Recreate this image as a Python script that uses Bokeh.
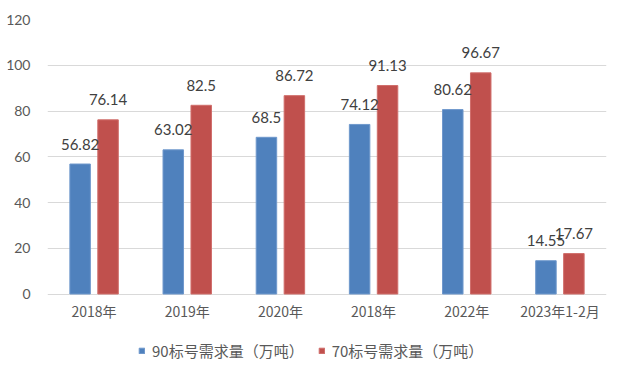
from bokeh.plotting import figure
from bokeh.models import ColumnDataSource, Range1d, FixedTicker, LabelSet, Legend, LegendItem
from bokeh.core.properties import value
from bokeh.transform import dodge
from bokeh.embed import file_html
from bokeh.resources import INLINE

categories = ["2018年", "2019年", "2020年", "2018年", "2022年", "2023年1-2月"]
series_90 = [56.82, 63.02, 68.5, 74.12, 80.62, 14.55]
series_70 = [76.14, 82.5, 86.72, 91.13, 96.67, 17.67]
name_90 = "90标号需求量（万吨）"
name_70 = "70标号需求量（万吨）"
y_ticks = [0, 20, 40, 60, 80, 100, 120]

BLUE = "#4F81BD"
RED = "#C0504D"
CJK = "Noto Sans CJK SC"
NUM = "Lato"

W, H = 613, 366
TOP, BOTTOM, LEFT, RIGHT = 19, 0, 47, 7
PX_PER_120 = 274.5  # pixel span of the 0..120 value range
frame_h = H - TOP - BOTTOM
y_min = 120 - frame_h * 120 / PX_PER_120

idx = list(range(len(categories)))
src = ColumnDataSource(dict(
    x=idx, zero=[0] * len(idx), cat=categories,
    v90=series_90, v70=series_70,
    t90=[str(v) for v in series_90], t70=[str(v) for v in series_70],
))

p = figure(width=W, height=H, output_backend="svg", toolbar_location=None,
           x_range=Range1d(-0.5, len(categories) - 0.5), y_range=Range1d(y_min, 120),
           x_axis_location=None,
           min_border_left=LEFT, min_border_right=RIGHT, min_border_top=TOP, min_border_bottom=BOTTOM)
p.outline_line_color = None
p.background_fill_color = "white"
p.border_fill_color = "white"

p.xgrid.grid_line_color = None
p.ygrid.grid_line_color = "#D9D9D9"
p.ygrid.grid_line_width = 1
p.ygrid.ticker = FixedTicker(ticks=y_ticks)

r90 = p.vbar(x=dodge("x", -0.15), top="v90", bottom=0, width=0.22, source=src,
             fill_color=BLUE, line_color="#6F98CC", line_width=1)
r70 = p.vbar(x=dodge("x", 0.15), top="v70", bottom=0, width=0.22, source=src,
             fill_color=RED, line_color="#D06E6B", line_width=1)

for col, txt, off in (("v90", "t90", -0.15), ("v70", "t70", 0.15)):
    p.add_layout(LabelSet(x=dodge("x", off), y=col, text=txt, source=src,
                          text_align="center", text_baseline="middle", y_offset=20,
                          text_font=value(NUM), text_font_size="15px", text_color="#404040"))

# category labels under the zero line
p.add_layout(LabelSet(x="x", y="zero", text="cat", source=src,
                      text_align="center", text_baseline="middle", y_offset=-17,
                      text_font=value(CJK), text_font_size="14px", text_color="#595959"))

p.yaxis.ticker = FixedTicker(ticks=y_ticks)
p.yaxis.axis_line_color = None
p.yaxis.major_tick_line_color = None
p.yaxis.minor_tick_line_color = None
p.yaxis.major_label_standoff = 11
p.yaxis.major_label_text_font = NUM
p.yaxis.major_label_text_font_size = "14px"
p.yaxis.major_label_text_color = "#595959"

legend = Legend(items=[LegendItem(label=name_90, renderers=[r90]),
                       LegendItem(label=name_70, renderers=[r70])],
                orientation="horizontal", location=(91, 5),
                padding=0, margin=0, spacing=14, label_standoff=7,
                glyph_width=7, glyph_height=7,
                label_text_font=CJK, label_text_font_size="15px", label_text_color="#595959",
                border_line_color=None, background_fill_alpha=0)
p.add_layout(legend, "center")

open("out.html", "w").write(file_html(p, INLINE))
